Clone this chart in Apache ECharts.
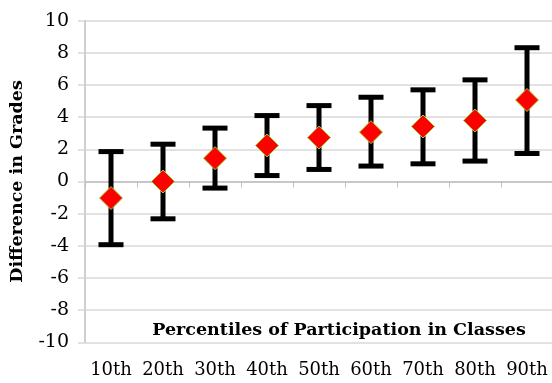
<!DOCTYPE html>
<html><head><meta charset="utf-8">
<script src="https://cdn.jsdelivr.net/npm/echarts@6/dist/echarts.min.js"></script>
<style>html,body{margin:0;padding:0;background:#fff}#c{width:552px;height:383px}</style>
</head><body><div id="c"></div>
<script>
const categories = ['10th','20th','30th','40th','50th','60th','70th','80th','90th'];
const means = [-1.03, 0.0, 1.45, 2.24, 2.73, 3.07, 3.42, 3.79, 5.07];
const upper = [1.86, 2.32, 3.32, 4.1, 4.72, 5.24, 5.7, 6.32, 8.32];
const lower = [-3.93, -2.32, -0.41, 0.37, 0.75, 0.96, 1.1, 1.27, 1.74];
const yTicks = {min: -10, max: 10, interval: 2};
const xTitle = 'Percentiles of Participation in Classes';
const yTitle = 'Difference in Grades';

const font = 'DejaVu Serif';
const chart = echarts.init(document.getElementById('c'));
chart.setOption({
  animation: false,
  grid: {left: 85, right: -1, top: 20.7, bottom: 40.7, containLabel: false, outerBoundsMode: 'none'},
  graphic: [{
    type: 'text', x: 339, y: 330, z: 10,
    style: {text: xTitle, fontFamily: font, fontWeight: 'bold', fontSize: 17.5, fill: '#000',
            textAlign: 'center', textVerticalAlign: 'middle'}
  }],
  xAxis: {
    type: 'category', data: categories, boundaryGap: true,
    axisLine: {lineStyle: {color: '#bfbfbf', width: 1.5}},
    axisTick: {show: true, length: 6, lineStyle: {color: '#bfbfbf'}},
    axisLabel: {fontFamily: font, fontSize: 18, color: '#000', margin: 19, interval: 0},
    splitLine: {show: false}
  },
  yAxis: {
    type: 'value', min: yTicks.min, max: yTicks.max, interval: yTicks.interval,
    name: yTitle, nameLocation: 'middle', nameGap: 59, nameRotate: 90,
    nameTextStyle: {fontFamily: font, fontWeight: 'bold', fontSize: 17.5, color: '#000'},
    axisLine: {show: true, lineStyle: {color: '#bfbfbf', width: 1.5}},
    axisTick: {show: true, length: 7, lineStyle: {color: '#d9d9d9', width: 1.5}},
    axisLabel: {fontFamily: font, fontSize: 19, color: '#000', margin: 16},
    splitLine: {lineStyle: {color: '#d9d9d9', width: 1.5}}
  },
  series: [
    {
      type: 'custom',
      data: categories.map((c, i) => [i, lower[i], upper[i]]),
      renderItem: function (params, api) {
        const lo = api.coord([api.value(0), api.value(1)]);
        const hi = api.coord([api.value(0), api.value(2)]);
        const hw = 12.5;
        const st = {stroke: '#000', lineWidth: 5};
        return {type: 'group', children: [
          {type: 'line', shape: {x1: hi[0], y1: hi[1], x2: lo[0], y2: lo[1]}, style: st},
          {type: 'line', shape: {x1: hi[0]-hw, y1: hi[1], x2: hi[0]+hw, y2: hi[1]}, style: st},
          {type: 'line', shape: {x1: lo[0]-hw, y1: lo[1], x2: lo[0]+hw, y2: lo[1]}, style: st}
        ]};
      },
      z: 2
    },
    {
      type: 'scatter', data: means, symbol: 'diamond', symbolSize: [23, 23],
      itemStyle: {color: '#ff0000', borderColor: '#9acd32', borderWidth: 1, opacity: 1},
      z: 3
    }
  ]
});
</script></body></html>
